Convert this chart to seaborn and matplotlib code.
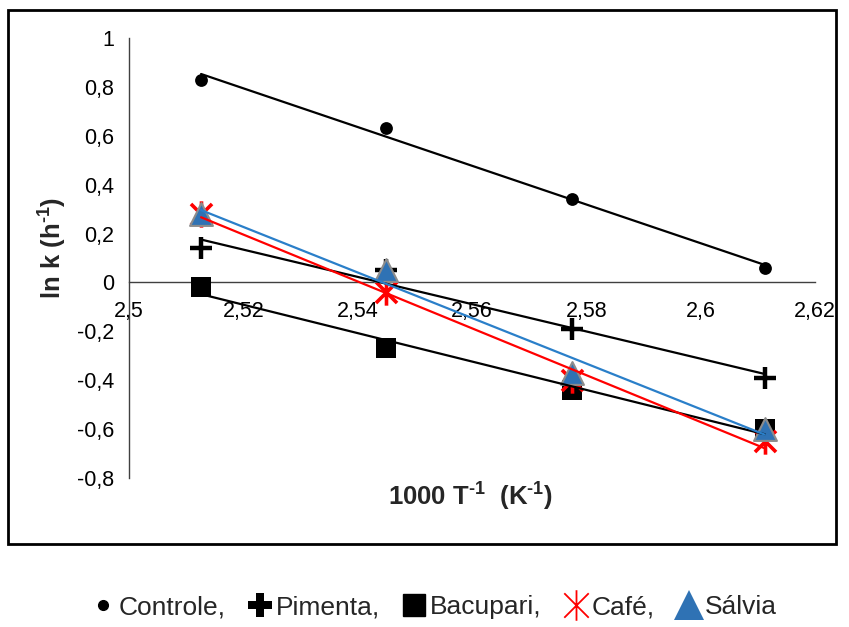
import numpy as np
import pandas as pd
import matplotlib
matplotlib.use("Agg")
import matplotlib.pyplot as plt
import seaborn as sns
from matplotlib.path import Path
from matplotlib.lines import Line2D
from matplotlib.patches import Rectangle

# dados: 1000/T (K^-1) e ln k (h^-1)
inv_T = [2.5126, 2.5449, 2.5775, 2.6112]
controle = [0.83, 0.63, 0.34, 0.06]
pimenta = [0.14, 0.05, -0.19, -0.39]
bacupari = [-0.02, -0.27, -0.44, -0.60]
cafe = [0.28, -0.04, -0.40, -0.65]
salvia = [0.28, 0.05, -0.37, -0.60]

nomes = ["Controle", "Pimenta", "Bacupari", "Café", "Sálvia"]
x_ticks = [2.5, 2.52, 2.54, 2.56, 2.58, 2.6, 2.62]
y_ticks = [-0.8, -0.6, -0.4, -0.2, 0, 0.2, 0.4, 0.6, 0.8, 1]

df = pd.DataFrame({"x": inv_T * 5,
                   "y": controle + pimenta + bacupari + cafe + salvia,
                   "amostra": np.repeat(nomes, len(inv_T))})

sns.set_style("white")
plt.rcParams['font.family'] = ['Liberation Sans', 'DejaVu Sans']
plt.rcParams['mathtext.fontset'] = 'custom'
plt.rcParams['mathtext.rm'] = 'Liberation Sans:bold'
plt.rcParams['mathtext.bf'] = 'Liberation Sans:bold'
plt.rcParams['mathtext.default'] = 'rm'

# marcador estrela do excel (x com traco vertical)
estrela = Path([(-1, -1), (1, 1), (-1, 1), (1, -1), (0, -1.25), (0, 1.25)],
               [Path.MOVETO, Path.LINETO] * 3)

azul_linha = '#2a7fc9'
azul_marc = '#2f72b4'

estilos = {
    "Controle": dict(marker='o', s=85, color='black', lw=0, edge='black', line='black'),
    "Pimenta": dict(marker='+', s=230, color='black', lw=3.2, edge='black', line='black'),
    "Bacupari": dict(marker='s', s=210, color='black', lw=0, edge='black', line='black'),
    "Café": dict(marker=estrela, s=360, color='red', lw=2.6, edge='red', line='red'),
    "Sálvia": dict(marker='^', s=270, color=azul_marc, lw=1.5, edge='#8c8c8c', line=azul_linha),
}

fig = plt.figure(figsize=(8.49, 6.27), dpi=100)
ax = fig.add_axes([0.152, 0.2376, 0.808, 0.7018])

for nome in nomes:
    d = df[df["amostra"] == nome]
    e = estilos[nome]
    sns.scatterplot(data=d, x="x", y="y", marker=e["marker"], s=e["s"],
                    color=e["color"], edgecolor=e["edge"], linewidth=e["lw"],
                    ax=ax, zorder=3, legend=False)
    sns.regplot(data=d, x="x", y="y", scatter=False, ci=None, truncate=True,
                color=e["line"], line_kws=dict(lw=1.6, zorder=4), ax=ax)

ax.set_xlim(2.5, 2.62)
ax.set_ylim(-0.8, 1)
ax.set_xticks(x_ticks)
ax.set_yticks(y_ticks)
ax.set_xticklabels([f"{v:g}".replace('.', ',') for v in x_ticks])
ax.set_yticklabels([f"{v:g}".replace('.', ',') for v in y_ticks])
ax.tick_params(length=0, labelsize=15.5, colors='black')
ax.tick_params(axis='y', pad=11)
ax.tick_params(axis='x', pad=13)

ax.spines['left'].set_position(('data', 2.5))
ax.spines['bottom'].set_position(('data', 0))
ax.spines['top'].set_visible(False)
ax.spines['right'].set_visible(False)
for s in ['left', 'bottom']:
    ax.spines[s].set_color('#404040')
    ax.spines[s].set_linewidth(1.0)
ax.set_xlabel("")
ax.set_ylabel("")

fig.text(53 / 849, 1 - 248 / 627, r"ln k (h$^{\text{-}1}$)", rotation=90,
         ha='center', va='center', fontsize=18.5, fontweight='bold')
fig.text(470 / 849, 1 - 497 / 627, r"1000 T$^{\text{-}1}$  (K$^{\text{-}1}$)",
         ha='center', va='center', fontsize=18.5, fontweight='bold')

# moldura
fig.patches.append(Rectangle((8 / 849, 1 - 544 / 627), 828 / 849, 534 / 627,
                             transform=fig.transFigure, fill=False,
                             edgecolor='black', linewidth=2))

handles = [
    Line2D([], [], ls='', marker='o', markersize=7, color='black'),
    Line2D([], [], ls='', marker='P', markersize=17, color='black', markeredgewidth=0),
    Line2D([], [], ls='', marker='s', markersize=16, color='black'),
    Line2D([], [], ls='', marker=estrela, markersize=22, color='red', markeredgewidth=1.3),
    Line2D([], [], ls='', marker='^', markersize=21, color=azul_marc, markeredgewidth=0),
]
labels = [n + ',' for n in nomes[:-1]] + [nomes[-1]]
fig.legend(handles, labels, loc='center', bbox_to_anchor=(0.512, 1 - 607 / 627),
           ncol=5, frameon=False, fontsize=19, handlelength=0.8,
           handletextpad=0.2, columnspacing=0.9)

fig.savefig("out.png", dpi=100)
